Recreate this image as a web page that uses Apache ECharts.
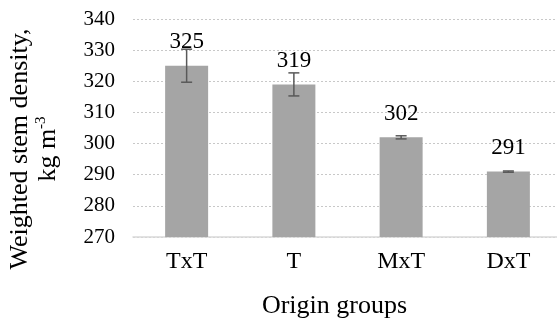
<!DOCTYPE html>
<html>
<head>
<meta charset="utf-8">
<script src="https://cdn.jsdelivr.net/npm/echarts@6/dist/echarts.min.js"></script>
<style>
html, body { margin: 0; padding: 0; background: #fff; }
#chart { width: 557px; height: 322px; }
</style>
</head>
<body>
<div id="chart"></div>
<script>
// Origin groups and their mean weighted stem density (kg m-3) with error half-widths
var categories = ['TxT', 'T', 'MxT', 'DxT'];
var densities = [325, 319, 302, 291];
var errors = [5.3, 3.7, 0.5, 0.2];
var yTicks = { min: 270, max: 340, interval: 10 };

var FONT = "'Liberation Serif', 'Times New Roman', serif";
var chart = echarts.init(document.getElementById('chart'));

var errorData = categories.map(function (c, i) {
  return [i, densities[i] - errors[i], densities[i] + errors[i]];
});

chart.setOption({
  animation: false,
  grid: { left: 133, right: -5, top: 19, bottom: 85, containLabel: false, outerBoundsMode: 'none' },
  xAxis: {
    type: 'category',
    data: categories,
    name: 'Origin groups',
    nameLocation: 'middle',
    nameGap: 56,
    nameTextStyle: { fontFamily: FONT, fontSize: 26, color: '#000', padding: [0, 26, 0, 0] },
    axisLine: { lineStyle: { color: '#d9d9d9', width: 1.5 } },
    axisTick: { show: false },
    axisLabel: { fontFamily: FONT, fontSize: 24, color: '#000', margin: 13 }
  },
  yAxis: {
    type: 'value',
    min: yTicks.min,
    max: yTicks.max,
    interval: yTicks.interval,
    name: 'Weighted stem density,\nkg m{sup|-3}',
    nameLocation: 'middle',
    nameRotate: 90,
    nameGap: 71,
    nameTextStyle: {
      fontFamily: FONT, fontSize: 26, color: '#000', lineHeight: 28, align: 'center',
      padding: [0, 42, 0, 0],
      rich: { sup: { fontFamily: FONT, fontSize: 15, verticalAlign: 'top', lineHeight: 28, padding: [0, 0, 8, 0] } }
    },
    axisLine: { show: false },
    axisTick: { show: false },
    axisLabel: { fontFamily: FONT, fontSize: 21, color: '#000', margin: 18 },
    splitLine: { lineStyle: { color: '#c8c8c8', type: [2, 2], width: 1 } }
  },
  series: [
    {
      type: 'bar',
      data: densities,
      barWidth: 43,
      itemStyle: { color: '#a5a5a5' },
      label: {
        show: true,
        position: 'top',
        distance: 12,
        fontFamily: FONT,
        fontSize: 23,
        color: '#000'
      },
      z: 2
    },
    {
      type: 'custom',
      data: errorData,
      z: 5,
      renderItem: function (params, api) {
        var x = api.value(0);
        var lo = api.coord([x, api.value(1)]);
        var hi = api.coord([x, api.value(2)]);
        var cap = 5.5;
        var style = { stroke: '#595959', lineWidth: 1.5 };
        return {
          type: 'group',
          children: [
            { type: 'line', shape: { x1: hi[0], y1: hi[1], x2: lo[0], y2: lo[1] }, style: style },
            { type: 'line', shape: { x1: hi[0] - cap, y1: hi[1], x2: hi[0] + cap, y2: hi[1] }, style: style },
            { type: 'line', shape: { x1: lo[0] - cap, y1: lo[1], x2: lo[0] + cap, y2: lo[1] }, style: style }
          ]
        };
      }
    }
  ]
});
</script>
</body>
</html>
